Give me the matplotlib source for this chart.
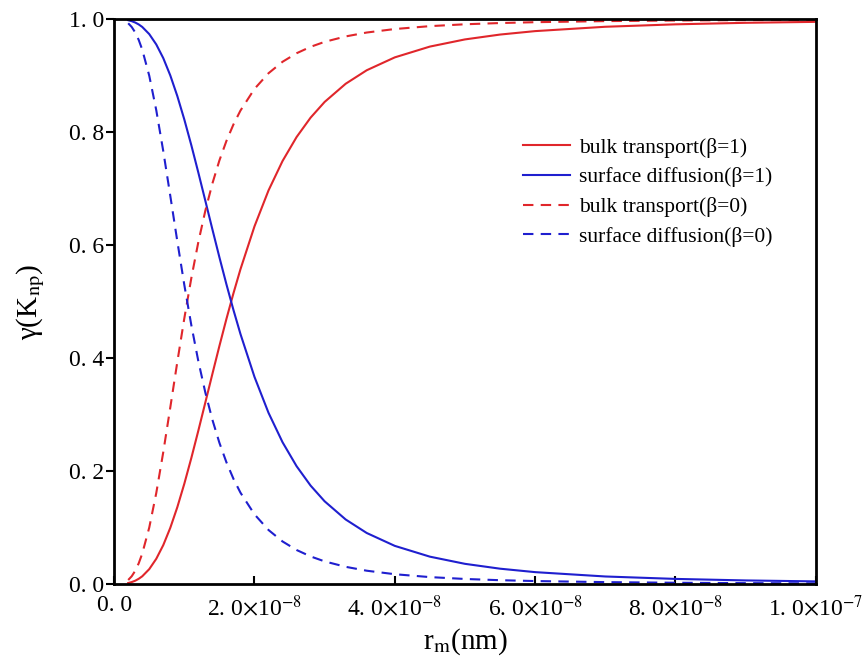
import matplotlib
matplotlib.use("Agg")
import matplotlib.pyplot as plt
import numpy as np

plt.rcParams['font.family'] = ['Liberation Serif', 'DejaVu Serif']
plt.rcParams['mathtext.fontset'] = 'stix'

# r_m in units of 1e-8
r_m = [0.2, 0.25, 0.3, 0.35, 0.4, 0.5, 0.6, 0.7, 0.8, 0.9, 1.0, 1.1, 1.2, 1.3,
       1.4, 1.5, 1.6, 1.7, 1.8, 2.0, 2.2, 2.4, 2.6, 2.8, 3.0, 3.3, 3.6, 4.0,
       4.5, 5.0, 5.5, 6.0, 7.0, 8.0, 9.0, 10.0]

bulk_b1 = [0.0017, 0.0034, 0.0058, 0.0092, 0.0136, 0.0263, 0.0446, 0.0689,
           0.0995, 0.136, 0.1776, 0.2232, 0.2717, 0.3217, 0.372, 0.4215,
           0.4693, 0.5147, 0.5573, 0.6333, 0.6969, 0.749, 0.7914, 0.8258,
           0.8536, 0.8858, 0.9097, 0.9325, 0.9516, 0.9643, 0.9729, 0.979,
           0.9867, 0.991, 0.9937, 0.9954]
surf_b1 = [0.9983, 0.9966, 0.9942, 0.9908, 0.9864, 0.9737, 0.9554, 0.9311,
           0.9005, 0.864, 0.8224, 0.7768, 0.7283, 0.6783, 0.628, 0.5785,
           0.5307, 0.4853, 0.4427, 0.3667, 0.3031, 0.251, 0.2086, 0.1742,
           0.1464, 0.1142, 0.0903, 0.0675, 0.0484, 0.0357, 0.0271, 0.021,
           0.0133, 0.009, 0.0063, 0.0046]
bulk_b0 = [0.0071, 0.0137, 0.0234, 0.0367, 0.0538, 0.1, 0.1611, 0.2337,
           0.3128, 0.3932, 0.4706, 0.5419, 0.6057, 0.6613, 0.7092, 0.75,
           0.7845, 0.8137, 0.8383, 0.8767, 0.9044, 0.9247, 0.9398, 0.9512,
           0.96, 0.9696, 0.9765, 0.9827, 0.9878, 0.9911, 0.9933, 0.9948,
           0.9967, 0.9978, 0.9985, 0.9989]
surf_b0 = [0.9929, 0.9863, 0.9766, 0.9633, 0.9462, 0.9, 0.8389, 0.7663,
           0.6872, 0.6068, 0.5294, 0.4581, 0.3943, 0.3387, 0.2908, 0.25,
           0.2155, 0.1863, 0.1617, 0.1233, 0.0956, 0.0753, 0.0602, 0.0488,
           0.04, 0.0304, 0.0235, 0.0173, 0.0122, 0.0089, 0.0067, 0.0052,
           0.0033, 0.0022, 0.0015, 0.0011]

xticks = [0, 2e-8, 4e-8, 6e-8, 8e-8, 1e-7]
xticklabels = ['0. 0', r'2. 0$\times$10$^{-8}$', r'4. 0$\times$10$^{-8}$',
               r'6. 0$\times$10$^{-8}$', r'8. 0$\times$10$^{-8}$',
               r'1. 0$\times$10$^{-7}$']
yticks = [0.0, 0.2, 0.4, 0.6, 0.8, 1.0]
yticklabels = ['0. 0', '0. 2', '0. 4', '0. 6', '0. 8', '1. 0']

red = '#e0262b'
blue = '#1f1fcf'

x = np.array(r_m) * 1e-8

fig = plt.figure(figsize=(8.65, 6.64), dpi=100)
ax = fig.add_axes([0.132, 0.1205, 0.811, 0.8505])

dash = (0, (5, 3.5))
ax.plot(x, bulk_b1, color=red, lw=1.5, label='bulk transport(β=1)')
ax.plot(x, surf_b1, color=blue, lw=1.5, label='surface diffusion(β=1)')
ax.plot(x, bulk_b0, color=red, lw=1.5, ls=dash, label='bulk transport(β=0)')
ax.plot(x, surf_b0, color=blue, lw=1.5, ls=dash, label='surface diffusion(β=0)')

ax.set_xlim(0, 1e-7)
ax.set_ylim(0, 1)
ax.set_xticks(xticks)
ax.set_xticklabels(xticklabels, fontsize=17)
ax.set_yticks(yticks)
ax.set_yticklabels(yticklabels, fontsize=17)
ax.tick_params(axis='x', direction='in', length=6, width=1.5, pad=8)
ax.tick_params(axis='y', direction='out', length=6, width=1.5, pad=1)
for s in ax.spines.values():
    s.set_linewidth(2)

ax.set_xlabel(r'r$_{\mathrm{m}}$(nm)', fontsize=21, labelpad=4)
ax.set_ylabel(r'γ(K$_{\mathrm{np}}$)', fontsize=21, labelpad=16)

ax.legend(loc='upper left', bbox_to_anchor=(0.555, 0.825), frameon=False,
          fontsize=15.5, handlelength=2.2, handletextpad=0.4, labelspacing=0.45)

fig.savefig('out.png', dpi=100)
